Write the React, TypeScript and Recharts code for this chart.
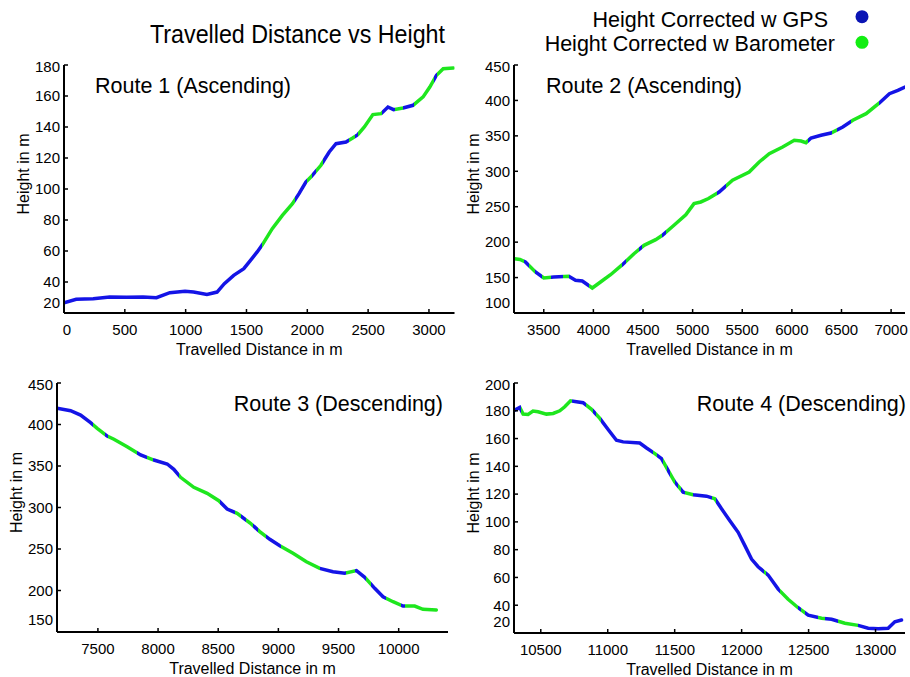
import { LineChart, Line, XAxis, YAxis } from "recharts";

// Route 1 (ascending)
const route1Dist = [0, 100, 240, 375, 515, 650, 760, 870, 995, 1065, 1175, 1258, 1318, 1395, 1478, 1533, 1588, 1630, 1712, 1795, 1878, 1932, 1988, 2029, 2112, 2180, 2236, 2318, 2373, 2415, 2469, 2539, 2607, 2663, 2709, 2787, 2869, 2952, 3007, 3062, 3117, 3200];
const route1Height = [26.5, 28.8, 29.2, 30.3, 30.1, 30.3, 29.9, 33.1, 34, 33.5, 32, 33.5, 38.9, 44.3, 48.6, 54, 59.4, 64, 74.4, 83, 90.5, 97, 104.5, 107.7, 115.3, 123.9, 129.2, 130.3, 132.9, 135, 140, 148, 148.6, 152.9, 151.2, 152.3, 154, 159.4, 165.8, 173.4, 177.6, 178];
const route1Switches = [1630, 1895, 2000, 2040, 2070, 2130, 2340, 2390, 2420, 2610, 2720, 2790, 2880, 3040, 3070];

// Route 2 (ascending)
const route2Dist = [3205, 3260, 3315, 3416, 3500, 3601, 3752, 3820, 3888, 3989, 4072, 4173, 4292, 4409, 4510, 4628, 4695, 4812, 4931, 5014, 5082, 5160, 5267, 5402, 5570, 5671, 5772, 5907, 6024, 6092, 6142, 6193, 6294, 6394, 6513, 6614, 6748, 6882, 6983, 7068, 7140];
const route2Height = [176.5, 175.5, 172, 158, 149.4, 150.8, 151.8, 146.2, 145.2, 135.3, 143.8, 154, 168.2, 183.7, 195.5, 203.5, 209.7, 223.8, 238.7, 254.3, 256.7, 261.5, 270.8, 287.3, 299, 313.1, 324.8, 334.3, 343.7, 342.7, 340.4, 347, 350.8, 354, 362.5, 372, 381.3, 396.4, 409.5, 414.3, 419];
const route2Switches = [3300, 3350, 3416, 3484, 3570, 3690, 3750, 3955, 4290, 4325, 4460, 4493, 4695, 4729, 5250, 5334, 6160, 6400, 6450, 6600, 6880];

// Route 3 (descending)
const route3Dist = [7160, 7273, 7356, 7439, 7494, 7577, 7633, 7743, 7855, 7965, 8076, 8131, 8187, 8297, 8408, 8505, 8574, 8657, 8768, 8845, 8929, 9012, 9122, 9233, 9344, 9454, 9551, 9649, 9718, 9801, 9870, 9953, 10036, 10133, 10202, 10313];
const route3Height = [419.5, 416.6, 411.4, 402.2, 395.4, 386.1, 382.2, 373.3, 363.3, 357.2, 352.4, 346, 336.4, 324.3, 317.1, 308.2, 298.2, 293, 281, 270.9, 261.7, 254, 244.8, 234.7, 226.7, 222.7, 220.7, 223.9, 215.9, 202.6, 192.5, 186.5, 181.3, 181.3, 177.3, 176.5];
const route3Switches = [7460, 7558, 7583, 7821, 7904, 7959, 8170, 8513, 8637, 8690, 8734, 8790, 8830, 8900, 9025, 9344, 9565, 9635, 9732, 9773, 9898, 10022, 10050];

// Route 4 (descending)
const route4Dist = [10306, 10343, 10368, 10405, 10442, 10480, 10542, 10592, 10642, 10679, 10722, 10767, 10816, 10879, 10941, 11003, 11065, 11115, 11239, 11290, 11352, 11402, 11451, 11501, 11563, 11638, 11738, 11800, 11850, 11912, 11974, 12024, 12074, 12123, 12198, 12273, 12347, 12422, 12497, 12597, 12672, 12771, 12870, 12945, 13020, 13094, 13144, 13194];
const route4Height = [180.5, 182.4, 177.6, 177.4, 179.8, 179.3, 177.6, 178.1, 180, 182.9, 187.2, 186.5, 185.8, 181, 174.5, 166.5, 158.8, 157.6, 156.8, 153.2, 149.2, 145.6, 137.1, 128.7, 121.4, 119.5, 118.5, 116.6, 109.4, 100.9, 92.5, 82.9, 73.2, 67.7, 61.7, 51.6, 44.3, 38.2, 32.8, 30.6, 29.9, 27, 25.5, 23.4, 23.1, 23.4, 28.1, 29.4];
const route4Switches = [10350, 10730, 10840, 10890, 10910, 10950, 11340, 11365, 11415, 11440, 11465, 11500, 11525, 11550, 11575, 11640, 11775, 11812, 12165, 12185, 12285, 12422, 12447, 12472, 12572, 12622, 12722, 12870];

const xTicks1 = [0, 500, 1000, 1500, 2000, 2500, 3000];
const xTicks2 = [3500, 4000, 4500, 5000, 5500, 6000, 6500, 7000];
const xTicks3 = [7500, 8000, 8500, 9000, 9500, 10000];
const xTicks4 = [10500, 11000, 11500, 12000, 12500, 13000];
const yTicks1 = [20, 40, 60, 80, 100, 120, 140, 160, 180];
const yTicks2 = [100, 150, 200, 250, 300, 350, 400, 450];
const yTicks3 = [150, 200, 250, 300, 350, 400, 450];
const yTicks4 = [20, 40, 60, 80, 100, 120, 140, 160, 180, 200];

const GPS_BLUE = "#1414e6";
const BARO_GREEN = "#1ee61e";
const FONT = '"Liberation Sans", Arial, Helvetica, sans-serif';
const border = { stroke: "#000", strokeWidth: 2 };

type Source = "gps" | "baro";

// colour the single height trace by which sensor corrected each stretch
function sourceStops(dist: number[], switches: number[], first: Source) {
  const lo = dist[0];
  const hi = dist[dist.length - 1];
  const edges = [lo, ...switches, hi];
  const stops = [];
  let src: Source = first;
  for (let k = 0; k < edges.length - 1; k++) {
    const color = src === "gps" ? GPS_BLUE : BARO_GREEN;
    stops.push(<stop key={`${k}a`} offset={(edges[k] - lo) / (hi - lo)} stopColor={color} />);
    stops.push(<stop key={`${k}b`} offset={(edges[k + 1] - lo) / (hi - lo)} stopColor={color} />);
    src = src === "gps" ? "baro" : "gps";
  }
  return stops;
}

type PanelProps = {
  id: string;
  dist: number[];
  height: number[];
  switches: number[];
  first: Source;
  xDomain: [number, number];
  yDomain: [number, number];
  xTicks: number[];
  yTicks: number[];
  left: number;
  top: number;
  width: number;
  plotHeight: number;
  lowShift: number;
};

function RoutePanel(p: PanelProps) {
  const data = p.dist.map((d, i) => ({ dist: d, height: p.height[i] }));
  const yw = 56;

  const bottomTick = (t: any) => (
    <g>
      <line x1={t.x} y1={t.y} x2={t.x} y2={t.y - 4} stroke="#000" strokeWidth={1.5} />
      <text x={t.x + (t.payload.value === p.xDomain[0] ? 3 : 0)} y={t.y + 22} textAnchor="middle"
        fontSize={15} fontFamily={FONT} fill="#000">{t.payload.value}</text>
    </g>
  );
  const topTick = (t: any) => (
    <line x1={t.x} y1={t.y} x2={t.x} y2={t.y + 4} stroke="#000" strokeWidth={1.5} />
  );
  const leftTick = (t: any) => {
    const v = t.payload.value;
    const shift = v === p.yDomain[0] ? p.lowShift : v === p.yDomain[1] ? 2 : 0;
    return (
      <g>
        <line x1={t.x} y1={t.y} x2={t.x + 4} y2={t.y} stroke="#000" strokeWidth={1.5} />
        <text x={t.x - 4} y={t.y + 5.3 + shift} textAnchor="end"
          fontSize={15} fontFamily={FONT} fill="#000">{v}</text>
      </g>
    );
  };
  const rightTick = (t: any) => (
    <line x1={t.x} y1={t.y} x2={t.x - 4} y2={t.y} stroke="#000" strokeWidth={1.5} />
  );

  return (
    <div style={{ position: "absolute", left: p.left - yw, top: p.top - 20 }}>
      <LineChart width={p.width + yw + 8} height={p.plotHeight + 70} data={data}
        margin={{ top: 20, right: 8, bottom: 0, left: 0 }}>
        <defs>
          <linearGradient id={`${p.id}-src`} x1="0" y1="0" x2="1" y2="0">
            {sourceStops(p.dist, p.switches, p.first)}
          </linearGradient>
        </defs>
        <XAxis dataKey="dist" type="number" domain={p.xDomain} ticks={p.xTicks} interval={0}
          allowDataOverflow height={50} tickSize={0} tickMargin={0} tickLine={false}
          axisLine={border} tick={bottomTick}
          label={{ value: "Travelled Distance in m", position: "insideBottom", offset: 8.5,
            fontSize: 16, fill: "#000", fontFamily: FONT }} />
        <XAxis xAxisId="top" orientation="top" dataKey="dist" type="number" domain={p.xDomain}
          ticks={p.xTicks} interval={0} allowDataOverflow height={0} tickSize={0} tickMargin={0}
          tickLine={false} axisLine={border} tick={topTick} />
        <YAxis type="number" domain={p.yDomain} ticks={p.yTicks} interval={0} allowDataOverflow
          width={yw} tickSize={0} tickMargin={0} tickLine={false} axisLine={border} tick={leftTick}
          label={{ value: "Height in m", angle: -90, position: "insideLeft", offset: 15, dy: -15,
            fontSize: 16, fill: "#000", fontFamily: FONT, style: { textAnchor: "middle" } }} />
        <YAxis yAxisId="right" orientation="right" type="number" domain={p.yDomain} ticks={p.yTicks}
          interval={0} allowDataOverflow width={0} tickSize={0} tickMargin={0} tickLine={false}
          axisLine={border} tick={rightTick} />
        <Line dataKey="height" name="Height" type="linear" stroke={`url(#${p.id}-src)`}
          strokeWidth={3.5} strokeLinecap="round" dot={false} activeDot={false}
          isAnimationActive={false} />
      </LineChart>
    </div>
  );
}

export default function App() {
  return (
    <div style={{ position: "absolute", left: 0, top: 0, width: 910, height: 677,
      overflow: "hidden", background: "#fff", fontFamily: FONT }}>
      <RoutePanel id="r1" dist={route1Dist} height={route1Height} switches={route1Switches} first="gps"
        xDomain={[0, 3210]} yDomain={[20, 180]} xTicks={xTicks1} yTicks={yTicks1}
        left={63.5} top={65} width={390.5} plotHeight={248} lowShift={-10} />
      <RoutePanel id="r2" dist={route2Dist} height={route2Height} switches={route2Switches} first="baro"
        xDomain={[3200, 7140]} yDomain={[100, 450]} xTicks={xTicks2} yTicks={yTicks2}
        left={514} top={65} width={391} plotHeight={248} lowShift={-10} />
      <RoutePanel id="r3" dist={route3Dist} height={route3Height} switches={route3Switches} first="gps"
        xDomain={[7160, 10410]} yDomain={[150, 450]} xTicks={xTicks3} yTicks={yTicks3}
        left={57} top={383} width={391} plotHeight={249} lowShift={-12} />
      <RoutePanel id="r4" dist={route4Dist} height={route4Height} switches={route4Switches} first="gps"
        xDomain={[10300, 13220]} yDomain={[20, 200]} xTicks={xTicks4} yTicks={yTicks4}
        left={514} top={383} width={391} plotHeight={250} lowShift={-11} />

      <svg width={910} height={677} style={{ position: "absolute", left: 0, top: 0, pointerEvents: "none" }}
        fontFamily={FONT}>
        <text x={150} y={43} fontSize={26} textLength={295} lengthAdjust="spacingAndGlyphs" fill="#000">
          Travelled Distance vs Height
        </text>
        <text x={828} y={26.7} fontSize={21.5} textAnchor="end" fill="#000">Height Corrected w GPS</text>
        <text x={835} y={50.7} fontSize={21.5} textAnchor="end" fill="#000">Height Corrected w Barometer</text>
        <circle cx={862} cy={16.7} r={6.5} fill="#0a14b4" />
        <circle cx={862} cy={42.3} r={6.5} fill="#12ee12" />
        <text x={95} y={93.3} fontSize={21.5} fill="#000">Route 1 (Ascending)</text>
        <text x={546} y={93.3} fontSize={21.5} fill="#000">Route 2 (Ascending)</text>
        <text x={443} y={410.7} fontSize={21.5} textAnchor="end" fill="#000">Route 3 (Descending)</text>
        <text x={906} y={410.7} fontSize={21.5} textAnchor="end" fill="#000">Route 4 (Descending)</text>
      </svg>
    </div>
  );
}
